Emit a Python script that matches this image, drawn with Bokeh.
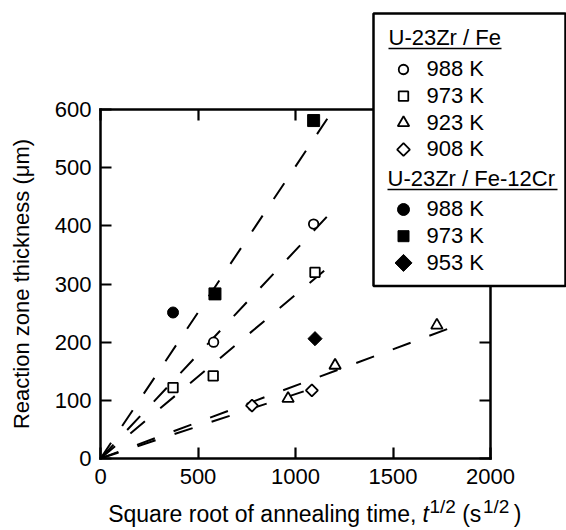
import math
from bokeh.plotting import figure
from bokeh.models import Range1d, LinearAxis
from bokeh.core.properties import value
from bokeh.embed import file_html
from bokeh.resources import INLINE

# ---------------- data ----------------
# U-23Zr / Fe
fe988_x = [580, 1093]
fe988_y = [200, 403]
fe973_x = [372, 578, 1100]
fe973_y = [122, 142, 320]
fe923_x = [962, 1203, 1725]
fe923_y = [103, 160, 229]
fe908_x = [777, 1084]
fe908_y = [91, 117]
# U-23Zr / Fe-12Cr
cr988_x = [372]
cr988_y = [251]
cr973_x = [587, 1093]
cr973_y = [283, 581]
cr953_x = [1100]
cr953_y = [206]
# dashed fit lines through the origin: end points
fit_x_end = [1163, 1204, 1187, 1846, 1120]
fit_y_end = [584, 431, 334, 231, 124]

x_ticks = [0, 500, 1000, 1500, 2000]
y_ticks = [0, 100, 200, 300, 400, 500, 600]

legend_fe_title = "U-23Zr / Fe"
legend_fe_labels = ["988 K", "973 K", "923 K", "908 K"]
legend_cr_title = "U-23Zr / Fe-12Cr"
legend_cr_labels = ["988 K", "973 K", "953 K"]

y_label = "Reaction zone thickness (\u03bcm)"

# ---------------- layout (canvas pixels) ----------------
W, H = 566, 530
FL, FR, FT, FB = 100, 490, 109, 458
X0, X1, Y0, Y1 = 0, 2000, 0, 600
FONT = "Liberation Sans"
TXT_SHIFT = 8.5   # correction of the text glyph's baseline placement


def dx(fx):
    return X0 + (fx - FL) / (FR - FL) * (X1 - X0)


def dy(fy):
    return Y0 + (FB - fy) / (FB - FT) * (Y1 - Y0)


def ty(base):
    return dy(base - TXT_SHIFT)


p = figure(width=W, height=H, x_range=Range1d(X0, X1), y_range=Range1d(Y0, Y1),
           output_backend="svg", toolbar_location=None, title=None,
           min_border_left=FL, min_border_right=W - FR,
           min_border_top=FT, min_border_bottom=H - FB)
p.outline_line_color = None
p.xgrid.visible = False
p.ygrid.visible = False
p.background_fill_color = "white"
p.border_fill_color = "white"


def style_axis(ax, labels=True):
    ax.axis_line_width = 2.5
    ax.axis_line_color = "black"
    ax.axis_line_cap = "square"
    ax.major_tick_line_width = 2.2
    ax.major_tick_line_color = "black"
    ax.major_tick_in = 11
    ax.major_tick_out = 0
    ax.minor_tick_line_color = None
    ax.major_label_text_font = FONT
    ax.major_label_text_font_size = "22px"
    ax.major_label_text_color = "black" if labels else None


p.xaxis.ticker = x_ticks
p.yaxis.ticker = y_ticks
style_axis(p.xaxis[0])
style_axis(p.yaxis[0])
p.xaxis.major_label_standoff = 10
p.yaxis.major_label_standoff = 9
p.yaxis.axis_label = y_label
p.yaxis.axis_label_text_font = FONT
p.yaxis.axis_label_text_font_size = "22px"
p.yaxis.axis_label_text_font_style = "normal"
p.yaxis.axis_label_text_color = "black"
p.yaxis.axis_label_standoff = 18

ax_r = LinearAxis(ticker=y_ticks)
style_axis(ax_r, labels=False)
ax_t = LinearAxis(ticker=x_ticks)
style_axis(ax_t, labels=False)
p.add_layout(ax_r, "right")
p.add_layout(ax_t, "above")

# ---------------- fit lines ----------------
p.multi_line(xs=[[0, xe] for xe in fit_x_end], ys=[[0, ye] for ye in fit_y_end],
             line_color="black", line_width=2, line_dash="19 20")

# ---------------- points ----------------
D45 = math.pi / 4
open_kw = dict(line_color="black", fill_color="white", line_width=1.8)
fill_kw = dict(line_color="black", fill_color="black", line_width=1)
p.scatter(fe988_x, fe988_y, marker="circle", size=9.5, **open_kw)
p.scatter(fe973_x, fe973_y, marker="square", size=9.5, **open_kw)
p.scatter(fe923_x, fe923_y, marker="triangle", size=11.5, **open_kw)
p.scatter(fe908_x, fe908_y, marker="square", angle=D45, size=8.5, **open_kw)
p.scatter(cr988_x, cr988_y, marker="circle", size=11, **fill_kw)
p.scatter(cr973_x, cr973_y, marker="square", size=12, **fill_kw)
p.scatter(cr953_x, cr953_y, marker="square", angle=D45, size=10, **fill_kw)

# ---------------- legend (drawn above the frame edges) ----------------
LEG_L, LEG_R, LEG_T, LEG_B = 373, 565, 13, 285.5
p.quad(left=dx(LEG_L), right=dx(LEG_R), top=dy(LEG_T), bottom=dy(LEG_B),
       fill_color="white", line_color="black", line_width=2.5, level="annotation")

MARK_X, LABEL_X = 403, 426
rows_fe = [69, 95.7, 122.4, 149.1]
rows_cr = [209, 235.7, 262.4]
HEAD_X = [388, 387]
HEAD_BASE = [45.7, 186.7]
HEAD_LINE_END = [501, 557]

# the two top swatches lie outside the frame: glyphs that are not culled there
p.ellipse(x=[dx(MARK_X)], y=[dy(rows_fe[0])], width=9.5, height=9.5,
          width_units="screen", height_units="screen", level="overlay", **open_kw)
p.rect(x=[dx(MARK_X)], y=[dy(rows_fe[1])], width=9.5, height=9.5,
       width_units="screen", height_units="screen", level="overlay", **open_kw)

leg_markers = [
    (rows_fe[2], "triangle", 11.5, 0, open_kw),
    (rows_fe[3], "square", 9, D45, open_kw),
    (rows_cr[0], "circle", 12, 0, fill_kw),
    (rows_cr[1], "square", 11, 0, fill_kw),
    (rows_cr[2], "square", 12, D45, fill_kw),
]
for cy, mk, sz, ang, kw in leg_markers:
    p.scatter([dx(MARK_X)], [dy(cy)], marker=mk, size=sz, angle=ang, level="overlay", **kw)

txt_kw = dict(text_font=value(FONT), text_font_size=value("22px"), text_color="black",
              text_align="left", text_baseline="alphabetic", level="overlay")
leg_rows = rows_fe + rows_cr
leg_labels = legend_fe_labels + legend_cr_labels
p.text(x=[dx(LABEL_X)] * len(leg_rows), y=[ty(c + 7.8) for c in leg_rows],
       text=leg_labels, **txt_kw)
p.text(x=[dx(h) for h in HEAD_X], y=[ty(b) for b in HEAD_BASE],
       text=[legend_fe_title, legend_cr_title], **txt_kw)
p.segment(x0=[dx(h) for h in HEAD_X], y0=[dy(b + 2.3) for b in HEAD_BASE],
          x1=[dx(e) for e in HEAD_LINE_END], y1=[dy(b + 2.3) for b in HEAD_BASE],
          line_color="black", line_width=1.3, level="overlay")

# ---------------- x axis label (with superscripts) ----------------
BASE = 521.5
SUP = BASE - 7
xl_kw = dict(text_font=value(FONT), text_color="black", text_align="left",
             text_baseline="alphabetic", level="overlay")
p.text(x=[dx(107.7), dx(461.7), dx(513.3)], y=[ty(BASE)] * 3,
       text=["Square root of annealing time,", "(s", ")"],
       text_font_size=value("23px"), text_font_style="normal", **xl_kw)
p.text(x=[dx(422)], y=[ty(BASE)], text=["t"],
       text_font_size=value("23px"), text_font_style="italic", **xl_kw)
p.text(x=[dx(429), dx(482.5)], y=[ty(SUP)] * 2, text=["1/2", "1/2"],
       text_font_size=value("19px"), text_font_style="normal", **xl_kw)

open("out.html", "w").write(file_html(p, INLINE))
